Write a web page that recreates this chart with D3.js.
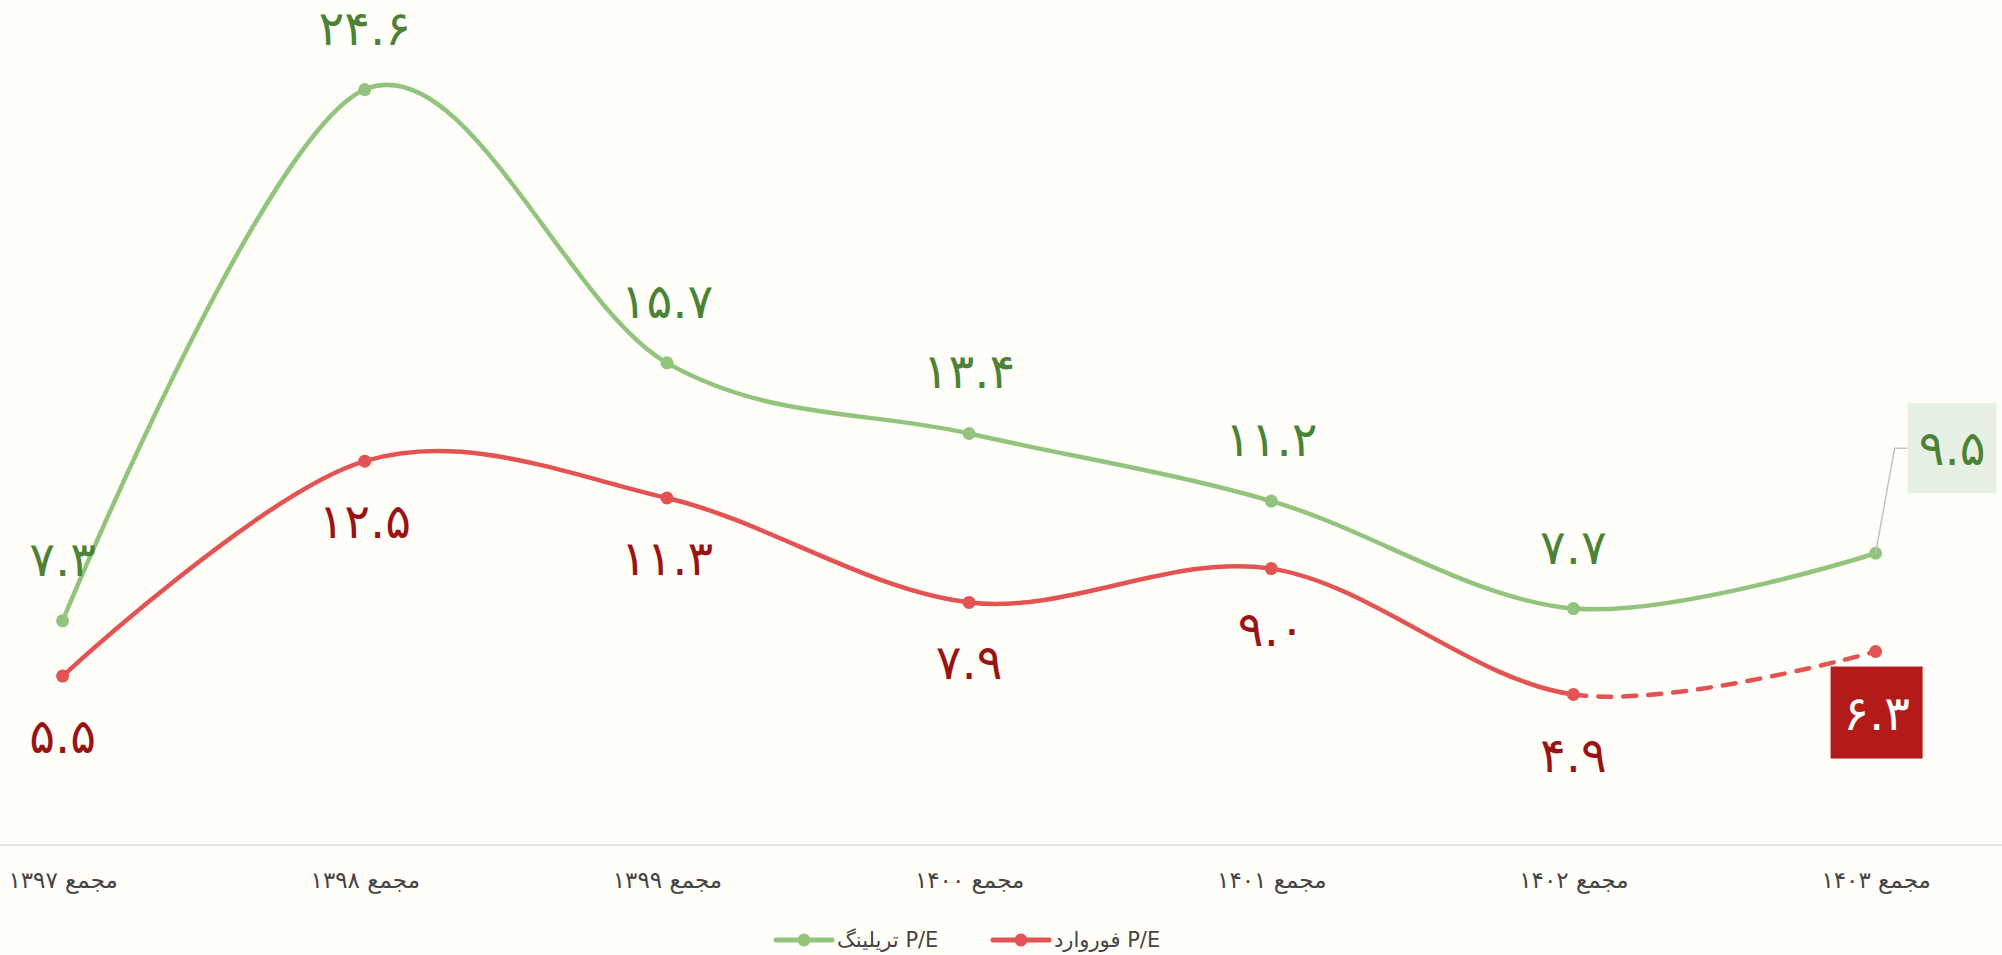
<!DOCTYPE html>
<html>
<head>
<meta charset="utf-8">
<script src="https://cdn.jsdelivr.net/npm/d3@7"></script>
<style>
html, body { margin: 0; padding: 0; background: #fffef8; }
svg { display: block; }
</style>
</head>
<body>
<svg id="chart" width="2002" height="955"></svg>
<script>
// ---- data ----
const categories = ["مجمع ۱۳۹۷", "مجمع ۱۳۹۸", "مجمع ۱۳۹۹", "مجمع ۱۴۰۰", "مجمع ۱۴۰۱", "مجمع ۱۴۰۲", "مجمع ۱۴۰۳"];
const trailingPE = [7.3, 24.6, 15.7, 13.4, 11.2, 7.7, 9.5];
const forwardPE = [5.5, 12.5, 11.3, 7.9, 9.0, 4.9, 6.3];
const seriesNames = ["P/E تریلینگ", "P/E فوروارد"];
const yDomain = [0, 25];

// ---- helpers ----
const faDigits = "۰۱۲۳۴۵۶۷۸۹";
const toFa = s => String(s).replace(/[0-9]/g, d => faDigits[+d]);
const fmt = v => toFa(v.toFixed(1));

const W = 2002, H = 955;
const baseY = 845;
const GREEN = "#93c47d", RED = "#e35353";
const GREEN_TXT = "#4b8236", RED_TXT = "#9a1313";
const FONT = "'DejaVu Sans', sans-serif";
const LBL = "48px";

const svg = d3.select("#chart");
svg.append("rect").attr("width", W).attr("height", H).attr("fill", "#fffef8");

const x = d3.scalePoint().domain(categories).range([62.6, 1875.6]);
const y = d3.scaleLinear().domain(yDomain).range([baseY, baseY - 25 * 30.71]);

// axis
svg.append("line").attr("x1", 0).attr("x2", W).attr("y1", baseY).attr("y2", baseY)
  .attr("stroke", "#e3e3e3").attr("stroke-width", 2);
const axisG = svg.append("g").attr("transform", `translate(0,${baseY})`)
  .call(d3.axisBottom(x).tickSize(0).tickPadding(0));
axisG.select(".domain").remove();
axisG.selectAll("text")
  .attr("y", 43).attr("dy", 0)
  .attr("fill", "#444").style("font-family", FONT).style("font-size", "23px");

// curve recorder: split beziers per segment
function segmentsFor(values) {
  const pts = values.map((v, i) => [x(categories[i]), y(v)]);
  const segs = [];
  let start = null;
  const ctx = {
    moveTo(a, b) { start = [a, b]; },
    lineTo(a, b) { segs.push(`L${a},${b}`); },
    bezierCurveTo(a, b, c, d, e, f) { segs.push(`C${a},${b},${c},${d},${e},${f}`); },
    closePath() {}
  };
  d3.line().curve(d3.curveCardinal.tension(0)).context(ctx)(pts);
  return { pts, segs, start };
}

function drawSeries(values, color, dashedFrom) {
  const { pts, segs, start } = segmentsFor(values);
  const g = svg.append("g");
  const nSolid = dashedFrom == null ? segs.length : dashedFrom;
  g.append("path")
    .attr("d", `M${start[0]},${start[1]}` + segs.slice(0, nSolid).join(""))
    .attr("fill", "none").attr("stroke", color).attr("stroke-width", 4.5)
    .attr("stroke-linecap", "round").attr("stroke-linejoin", "round");
  if (dashedFrom != null) {
    const p = pts[dashedFrom];
    g.append("path")
      .attr("d", `M${p[0]},${p[1]}` + segs.slice(dashedFrom).join(""))
      .attr("fill", "none").attr("stroke", color).attr("stroke-width", 4.5)
      .attr("stroke-linecap", "round").attr("stroke-dasharray", "13,12");
  }
  g.selectAll("circle").data(pts).join("circle")
    .attr("cx", d => d[0]).attr("cy", d => d[1]).attr("r", 6.5).attr("fill", color);
  return pts;
}

drawSeries(trailingPE, GREEN, null);
drawSeries(forwardPE, RED, 5);

// data labels (all but last)
const last = categories.length - 1;
svg.append("g").selectAll("text").data(trailingPE.slice(0, last)).join("text")
  .attr("x", (d, i) => x(categories[i]))
  .attr("y", d => y(d) - 45)
  .attr("text-anchor", "middle")
  .attr("fill", GREEN_TXT).style("font-family", FONT).style("font-size", LBL)
  .text(d => fmt(d));
svg.append("g").selectAll("text").data(forwardPE.slice(0, last)).join("text")
  .attr("x", (d, i) => x(categories[i]))
  .attr("y", d => y(d) + 77)
  .attr("text-anchor", "middle")
  .attr("fill", RED_TXT).style("font-family", FONT).style("font-size", LBL)
  .text(d => fmt(d));

// last-point boxed labels
{
  const px = x(categories[last]), py = y(trailingPE[last]);
  svg.append("polyline")
    .attr("points", `${px},${py} ${px + 19},${py - 105} ${px + 32},${py - 105}`)
    .attr("fill", "none").attr("stroke", "#c4c4c4").attr("stroke-width", 1.5);
  svg.append("rect").attr("x", px + 32).attr("y", py - 150).attr("width", 89).attr("height", 90)
    .attr("fill", "#e6f1e4");
  svg.append("text").attr("x", px + 76.5).attr("y", py - 105 + 17)
    .attr("text-anchor", "middle").attr("fill", GREEN_TXT)
    .style("font-family", FONT).style("font-size", LBL).text(fmt(trailingPE[last]));
}
{
  const px = x(categories[last]), py = y(forwardPE[last]);
  svg.append("rect").attr("x", px - 45).attr("y", py + 15).attr("width", 92).attr("height", 92)
    .attr("fill", "#b31b1b");
  svg.append("text").attr("x", px + 1).attr("y", py + 61 + 17)
    .attr("text-anchor", "middle").attr("fill", "#ffffff")
    .style("font-family", FONT).style("font-size", LBL).text(fmt(forwardPE[last]));
}

// legend
const legendItems = [
  { name: seriesNames[0], color: GREEN, x0: 776 },
  { name: seriesNames[1], color: RED, x0: 993 }
];
const legendY = 940;
const lg = svg.append("g");
legendItems.forEach(it => {
  lg.append("line").attr("x1", it.x0).attr("x2", it.x0 + 56).attr("y1", legendY).attr("y2", legendY)
    .attr("stroke", it.color).attr("stroke-width", 5).attr("stroke-linecap", "round");
  lg.append("circle").attr("cx", it.x0 + 28).attr("cy", legendY).attr("r", 6.5).attr("fill", it.color);
  const t = lg.append("text").attr("y", legendY + 7)
    .attr("direction", "rtl").style("direction", "rtl")
    .attr("text-anchor", "middle")
    .attr("fill", "#444").style("font-family", FONT).style("font-size", "21px")
    .text(it.name);
  const w = t.node().getComputedTextLength();
  t.attr("x", it.x0 + 61 + w / 2);
});
</script>
</body>
</html>
